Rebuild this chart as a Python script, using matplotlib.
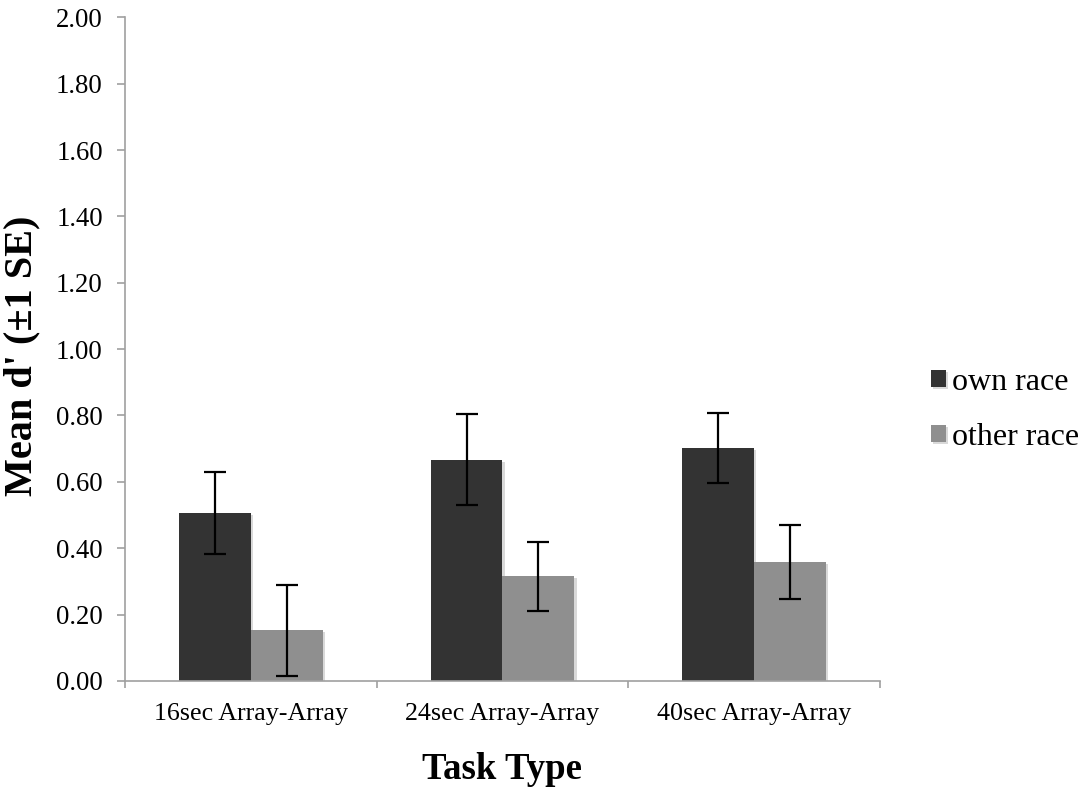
import numpy as np
import matplotlib
matplotlib.use("Agg")
import matplotlib.pyplot as plt
import matplotlib.patheffects as pe

## DATA ##
TASKS = ["16sec Array-Array", "24sec Array-Array", "40sec Array-Array"]
SERIES = ["own race", "other race"]
OWN_MEAN = [0.505, 0.666, 0.701]
OWN_SE = [0.124, 0.137, 0.106]
OTHER_MEAN = [0.153, 0.315, 0.359]
OTHER_SE = [0.137, 0.105, 0.112]
Y_TICKS = [0.0, 0.2, 0.4, 0.6, 0.8, 1.0, 1.2, 1.4, 1.6, 1.8, 2.0]

COLORS = ["#333333", "#8f8f8f"]
AXIS_GRAY = "#a0a0a0"

plt.rcParams["font.family"] = ["Liberation Serif", "DejaVu Serif"]

fig = plt.figure(figsize = (10.9, 7.87), dpi = 100)
ax = fig.add_axes([0.1147, 0.1348, 0.6926, 0.8432])

x = np.arange(len(TASKS))
bar_width = 0.286
shadow = [pe.SimplePatchShadow(offset = (1.5, -1.5), shadow_rgbFace = "black", alpha = 0.15), pe.Normal()]

for offset, means, errs, color, name in [
	(-bar_width / 2, OWN_MEAN, OWN_SE, COLORS[0], SERIES[0]),
	(bar_width / 2, OTHER_MEAN, OTHER_SE, COLORS[1], SERIES[1]),
]:
	bars = ax.bar(x + offset, means, bar_width, color = color, label = name, zorder = 2)
	for rect in bars:
		rect.set_path_effects(shadow)
	ax.errorbar(
		x + offset, means, yerr = errs,
		fmt = "none", ecolor = "black", elinewidth = 1.6,
		capsize = 8, capthick = 1.6, zorder = 3
	)

ax.set_xlim(-0.5, len(TASKS) - 0.5)
ax.set_ylim(0, 2.0)
ax.set_yticks(Y_TICKS)
ax.set_yticklabels([f"{v:.2f}" for v in Y_TICKS], fontsize = 19.3)

# category labels sit between boundary ticks
ax.set_xticks(np.arange(-0.5, len(TASKS), 1.0))
ax.set_xticklabels([])
ax.set_xticks(x, minor = True)
ax.set_xticklabels(TASKS, minor = True, fontsize = 18.7)
ax.tick_params(axis = "x", which = "minor", length = 0, pad = 16)
ax.tick_params(axis = "x", which = "major", length = 5, color = AXIS_GRAY, width = 1.2)
ax.tick_params(axis = "y", length = 6, color = AXIS_GRAY, width = 1.2, pad = 10)

for side in ["top", "right"]:
	ax.spines[side].set_visible(False)
for side in ["left", "bottom"]:
	ax.spines[side].set_color(AXIS_GRAY)
	ax.spines[side].set_linewidth(1.2)

ax.set_ylabel("Mean d' (±1 SE)", fontsize = 29, fontweight = "bold")
ax.yaxis.set_label_coords(-0.112, 0.49)
ax.set_xlabel("Task Type", fontsize = 26.5, fontweight = "bold", labelpad = 19)

fig.legend(
	loc = "upper left", bbox_to_anchor = (0.842, 0.549),
	frameon = False, fontsize = 23,
	handlelength = 0.47, handleheight = 0.47, handletextpad = 0.2,
	labelspacing = 0.82, borderaxespad = 0
)

fig.savefig("out.png", dpi = 100)
